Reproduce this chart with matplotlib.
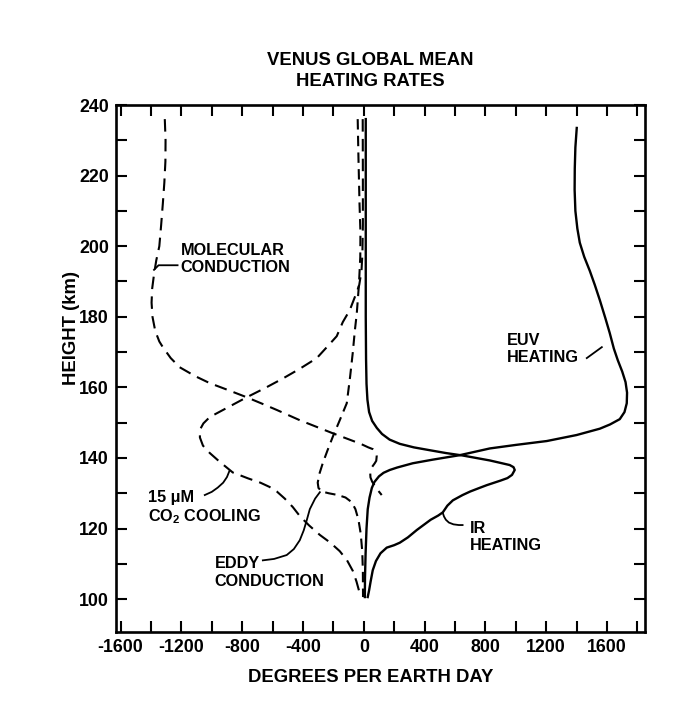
import matplotlib.pyplot as plt
from matplotlib.ticker import MultipleLocator

plt.rcParams["font.family"] = ["Liberation Sans", "DejaVu Sans"]
plt.rcParams["font.weight"] = "bold"
plt.rcParams["axes.unicode_minus"] = False
plt.rcParams["mathtext.fontset"] = "custom"
plt.rcParams["mathtext.rm"] = "Liberation Sans:bold"
plt.rcParams["mathtext.it"] = "Liberation Sans:bold"
plt.rcParams["mathtext.bf"] = "Liberation Sans:bold"

# heating / cooling profiles, degrees per earth day vs height (km)
mol_rate = [-1309, -1304, -1305, -1312, -1322, -1333, -1345, -1365, -1380, -1392, -1396, -1390,
            -1372, -1345, -1322, -1270, -1211, -1110, -1013, -890, -770, -670, -572, -421,
            -204, -20, 30, 60, 78, 85, 82, 72, 52, 42, 44, 55, 75, 92, 118]
mol_height = [236, 230, 224, 218, 212, 206, 200, 196, 192, 188, 184, 180,
              176, 173, 171.4, 168.3, 165.7, 163.2, 161.2, 159.2, 157.2, 155.4, 153.6, 150.7,
              147, 144, 143, 142.5, 141.8, 140.5, 139.2, 138.5, 137.3, 136, 134.5, 133.3, 132, 130.9, 129.5]

co2_rate = [-7, -6, -6, -9, -15, -30, -48, -92, -138, -178, -224, -309, -420, -533, -650, -770,
            -900, -1013, -1055, -1078, -1078, -1058, -1013, -950, -862, -760, -680, -620, -572,
            -520, -467, -420, -360, -289, -220, -158, -110, -72, -48, -32, -26]
co2_height = [236, 220, 206, 198, 193, 189, 186.8, 181.9, 178.5, 174.5, 172.3, 168.3, 165.3, 162.5,
              159.8, 157.2, 154.2, 151.6, 149.8, 148, 145.8, 143.5, 141.4, 139, 135.9, 134.2, 133,
              131.8, 130.5, 128.5, 126.1, 123.5, 120.9, 118.2, 116, 113.6, 111, 108, 105, 102.5, 100.6]

eddy_rate = [-40, -35, -28, -22, -23, -32, -46, -59, -72, -90, -112, -158, -204, -240, -270,
             -292, -303, -298, -276, -230, -170, -120, -80, -55, -35, -20, -10, -6, -5]
eddy_height = [236, 225, 212, 204, 197, 189, 181, 176, 170, 163, 155.5, 150.7, 146, 142, 138.5,
               135.5, 133, 131.5, 130.5, 130, 129.5, 128.8, 127.5, 125.5, 122.5, 118.5, 113.5, 108, 100.6]

euv_rate = [1401, 1392, 1388, 1387, 1392, 1405, 1421, 1450, 1487, 1520, 1553, 1590, 1618, 1645,
            1671, 1700, 1722, 1732, 1730, 1715, 1684, 1620, 1553, 1400, 1204, 1000, 829, 632,
            450, 322, 220, 171, 130, 100, 70, 53, 38, 26, 18, 12, 8, 7]
euv_height = [233.5, 228, 222, 216, 210, 205, 201, 197, 193, 189, 184.7, 179.5, 175.4, 171,
              167.7, 164.5, 161.5, 158.5, 155.5, 153, 151, 149.5, 148.3, 146.5, 144.8, 143.7, 142.7, 140.8,
              139.5, 138.5, 137.3, 136.6, 135.8, 134.8, 133.2, 131.5, 128.8, 125.5, 120, 113, 106, 100.6]

ir_rate = [26, 35, 45, 59, 80, 110, 151, 200, 237, 290, 349, 440, 490, 520, 550, 586, 650, 700,
           760, 809, 900, 945, 975, 993, 985, 960, 900, 829, 651, 540, 434, 330, 237, 170, 120,
           86, 55, 35, 24, 18, 15, 13, 13]
ir_height = [100.6, 102.5, 105, 108.2, 110.8, 113, 114.6, 115.3, 116, 117.5, 119.6, 122.5, 123.7,
             124.6, 126.5, 128, 129.5, 130.5, 131.5, 132.3, 133.6, 134.3, 135.2, 136.6, 137.4, 138,
             138.6, 139.3, 140.7, 141.4, 142.2, 143, 144, 145.2, 146.8, 148.5, 150.5, 153, 156.5,
             161, 168, 180, 236]

fig = plt.figure(figsize=(6.91, 7.02), dpi=100)
ax = fig.add_axes([116 / 691, 1 - 632 / 702, 529 / 691, 527 / 702])

dash = dict(color="black", lw=1.5, dashes=(6, 3.5))
ax.plot(mol_rate, mol_height, **dash)
ax.plot(co2_rate, co2_height, **dash)
ax.plot(eddy_rate, eddy_height, color="black", lw=1.5, dashes=(5, 3))
ax.plot(euv_rate, euv_height, color="black", lw=1.7)
ax.plot(ir_rate, ir_height, color="black", lw=1.7)

ax.set_xlim(-1630, 1850)
ax.set_ylim(90.7, 240)
ax.xaxis.set_major_locator(MultipleLocator(400))
ax.xaxis.set_minor_locator(MultipleLocator(200))
ax.yaxis.set_major_locator(MultipleLocator(20))
ax.yaxis.set_minor_locator(MultipleLocator(10))
ax.set_xticks(range(-1600, 1601, 400))
ax.tick_params(which="both", direction="in", top=True, right=True, length=8, width=1.5,
               labelsize=12.8, pad=5)
for s in ax.spines.values():
    s.set_linewidth(1.9)

# callouts with their leader lines
lab = dict(fontsize=11.7, fontweight="bold", ha="left", va="center")
lead = dict(color="black", lw=1.3)

ax.text(-1204, 196.4, "MOLECULAR\nCONDUCTION", **lab)
ax.plot([-1380, -1350, -1225], [193.3, 194.6, 194.6], **lead)

ax.text(941, 170.8, "EUV\nHEATING", **lab)
ax.plot([1467, 1566], [168.3, 171.4], **lead)

ax.text(697, 117.6, "IR\nHEATING", **lab)
ax.plot([520, 528, 540, 560, 590, 625, 650], [124.4, 123.4, 122.5, 121.7, 121.2, 121.0, 121.0], **lead)

ax.text(-1421, 125.8, "15 \u03bcM\nCO$_2$ COOLING", **lab)
ax.plot([-1046, -1000, -961, -925, -900, -885], [129.5, 130.4, 131.6, 133.0, 134.6, 136.2], **lead)

ax.text(-980, 107.5, "EDDY\nCONDUCTION", **lab)
ax.plot([-664, -590, -507, -460, -421, -395, -375, -355, -320, -289],
        [111, 111.4, 112.5, 114.2, 116.7, 119.5, 122.4, 125.5, 128.5, 130.3], **lead)

fig.text(370 / 691, 1 - 71 / 702, "VENUS GLOBAL MEAN\nHEATING RATES", ha="center", va="center",
         fontsize=13.3, fontweight="bold", linespacing=1.25)
fig.text(371 / 691, 1 - 677 / 702, "DEGREES PER EARTH DAY", ha="center", va="center",
         fontsize=13.3, fontweight="bold")
fig.text(72 / 691, 1 - 328 / 702, "HEIGHT (km)", ha="center", va="center", rotation=90,
         fontsize=13.3, fontweight="bold")

fig.savefig("out.png", dpi=100)
